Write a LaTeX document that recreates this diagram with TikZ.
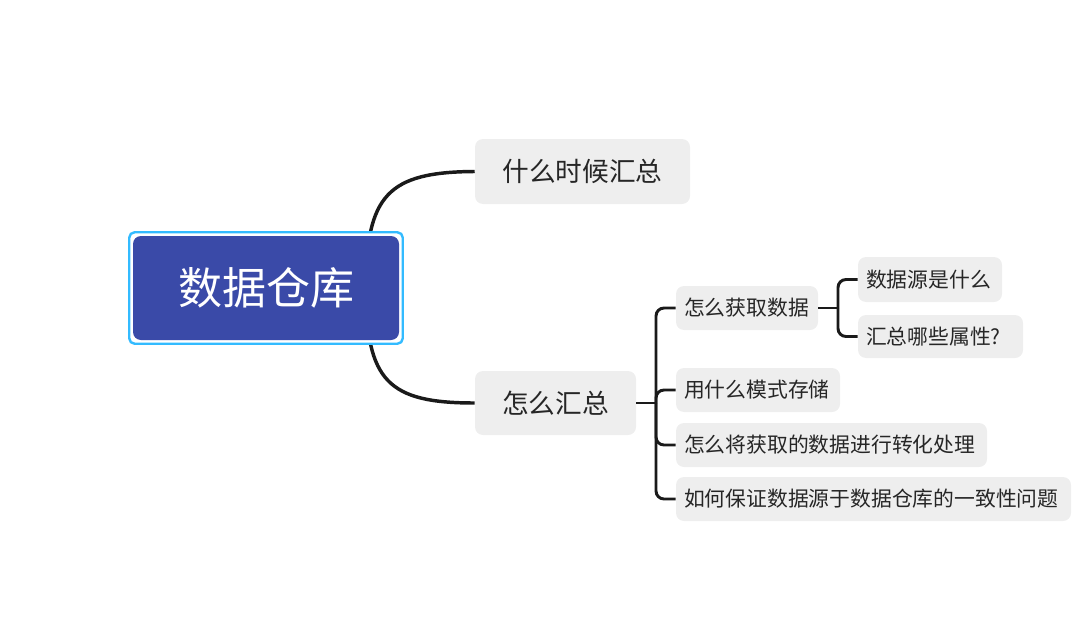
\documentclass[tikz,border=0pt]{standalone}
\usepackage{fontspec}
\newfontfamily\cjk{Noto Sans CJK SC}
\usetikzlibrary{fit,backgrounds}
\definecolor{rootblue}{RGB}{58,74,168}
\definecolor{selcyan}{RGB}{51,187,255}
\definecolor{boxgray}{RGB}{238,238,238}
\definecolor{txt}{RGB}{38,38,38}
\definecolor{linec}{RGB}{26,26,26}
\tikzset{
  rootbox/.style={fill=rootblue, text=white, rounded corners=6pt, inner sep=0pt,
    font=\cjk\fontsize{33}{36}\selectfont, minimum width=199.5pt, minimum height=78pt},
  selbox/.style={draw=selcyan, line width=1.8pt, fill=white, rounded corners=4pt, inner sep=2.6pt},
  mainbox/.style={fill=boxgray, text=txt, rounded corners=6pt, inner sep=0pt,
    font=\cjk\fontsize{20}{24}\selectfont},
  subbox/.style={fill=boxgray, text=txt, rounded corners=6pt, inner xsep=6pt, inner ysep=0pt,
    align=left, font=\cjk\fontsize{15.6}{19}\selectfont, minimum height=33pt},
  conn/.style={draw=linec, line width=2.6pt},
  brk/.style={draw=linec, line width=2.2pt, rounded corners=6pt}
}
\begin{document}
\begin{tikzpicture}[x=0.75pt,y=-0.75pt]
\useasboundingbox (0,0) rectangle (1092,617);
\node[rootbox] (root) at (266,288) {数据仓库};
\node[mainbox, minimum width=161.25pt, minimum height=48.75pt] (A) at (582.5,171.5) {什么时候汇总};
\node[mainbox, minimum width=120.75pt, minimum height=48pt] (B) at (555.5,403) {怎么汇总};
\node[subbox, text width=94.5pt] (C1) at (747,308) {怎么获取数据};
\node[subbox, text width=111pt] (C2) at (758,390) {用什么模式存储};
\node[subbox, text width=221.25pt] (C3) at (831.5,445) {怎么将获取的数据进行转化处理};
\node[subbox, text width=284.25pt] (C4) at (873.5,499) {如何保证数据源于数据仓库的一致性问题};
\node[subbox, text width=96pt, minimum height=33.75pt] (D1) at (930,279.5) {数据源是什么};
\node[subbox, text width=111.75pt, minimum height=32.25pt] (D2) at (940.5,336.5) {汇总哪些属性?};
\coordinate (bx) at (656,403);
\coordinate (cx) at (838,308);
\begin{pgfonlayer}{background}
\draw[conn] (root.center -| 366,0) .. controls (366,195) and (388,172) .. (A.west);
\draw[conn] (root.center -| 366,0) .. controls (366,381) and (388,403) .. (B.west);
\node[selbox, fit=(root)] (rootsel) {};
\end{pgfonlayer}
\draw[brk] (B.east) -- (bx);
\draw[brk] (C1.west) -| (bx);
\draw[brk] (C2.west) -| (bx);
\draw[brk] (C3.west) -| (bx);
\draw[brk] (C4.west) -| (bx);
\draw[brk] (C1.east) -- (cx);
\draw[brk] (D1.west) -| (cx);
\draw[brk] (D2.west) -| (cx);
\end{tikzpicture}
\end{document}
